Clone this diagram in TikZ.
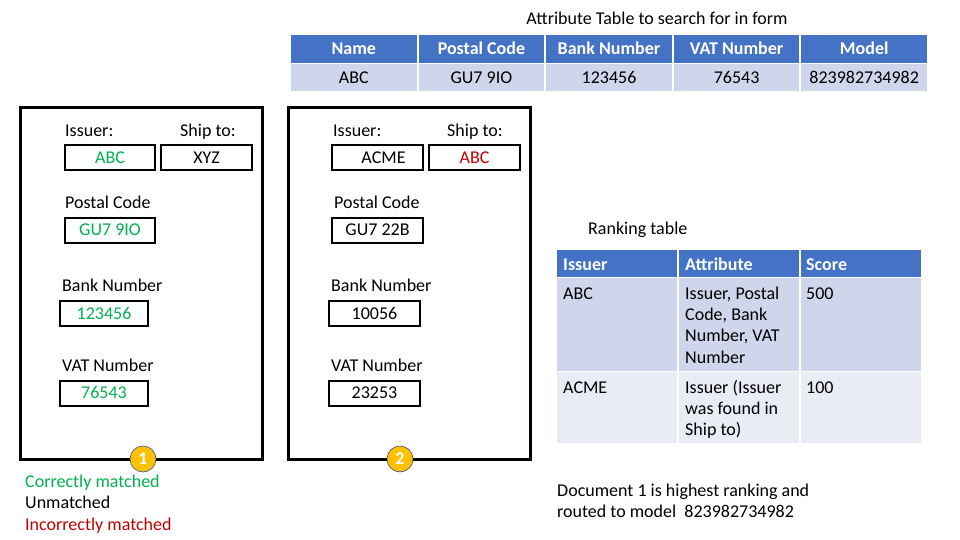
\documentclass[tikz,border=0pt]{standalone}
\usepackage{fontspec}
\setmainfont{Carlito}
\definecolor{hdrblue}{HTML}{4472C4}
\definecolor{rowA}{HTML}{CFD5EA}
\definecolor{rowB}{HTML}{E9EBF5}
\definecolor{okgreen}{HTML}{00B050}
\definecolor{badred}{HTML}{C00000}
\definecolor{badgefill}{HTML}{FFC000}
\definecolor{badgeline}{HTML}{2F528F}
\begin{document}
\begin{tikzpicture}[x=1pt,y=-1pt,
  txt/.style={font=\fontsize{18}{21.4}\selectfont, inner sep=0pt},
  lbl/.style={txt, anchor=base west},
  formbox/.style={draw, line width=3pt},
  field/.style={draw, line width=2pt, txt, minimum width=#1, minimum height=25pt, text height=11.6pt, text depth=0pt},
  field/.default=90pt,
  hcell/.style={fill=hdrblue, text=white, txt, font=\fontsize{18}{21.4}\selectfont\bfseries, minimum width=125.6pt, minimum height=28pt, text height=11.6pt, text depth=0pt},
  vcell/.style={fill=rowA, txt, minimum width=125.6pt, minimum height=27pt, text height=11.6pt, text depth=0pt},
  rcell/.style={fill=#1, inner sep=0pt, minimum width=120pt},
  para/.style={txt, anchor=north west, align=left},
  badge/.style={circle, fill=badgefill, draw=badgeline, line width=0.6pt, minimum size=26pt, inner sep=0pt, text=white, font=\fontsize{18}{18}\selectfont\bfseries}
]
\useasboundingbox (0,0) rectangle (960,540);

% attribute table
\node[txt, anchor=base] (ttitle) at (657,25) {Attribute Table to search for in form};
\node[hcell] (hName)  at (353.8,49) {Name};
\node[hcell] (hPost)  at (481.4,49) {Postal Code};
\node[hcell] (hBank)  at (609.0,49) {Bank Number};
\node[hcell] (hVat)   at (736.6,49) {VAT Number};
\node[hcell] (hModel) at (864.2,49) {Model};
\node[vcell] (vName)  at (353.8,77.5) {ABC};
\node[vcell] (vPost)  at (481.4,77.5) {GU7 9IO};
\node[vcell] (vBank)  at (609.0,77.5) {123456};
\node[vcell] (vVat)   at (736.6,77.5) {76543};
\node[vcell] (vModel) at (864.2,77.5) {823982734982};

% document 1
\node[formbox, minimum width=242pt, minimum height=351pt, inner sep=0pt] (doc1) at (141,283.5) {};
\node[lbl] (d1issuerlbl) at (65,137) {Issuer:};
\node[lbl] (d1shiplbl) at (180,137) {Ship to:};
\node[field, text=okgreen] (d1issuer) at (110,157.5) {ABC};
\node[field=91pt] (d1ship) at (206.5,157.5) {XYZ};
\node[lbl] (d1postlbl) at (65,208) {Postal Code};
\node[field, text=okgreen] (d1post) at (110,230) {GU7 9IO};
\node[lbl] (d1banklbl) at (62,291) {Bank Number};
\node[field=88pt, text=okgreen] (d1bank) at (104,313.5) {123456};
\node[lbl] (d1vatlbl) at (62,371) {VAT Number};
\node[field=88pt, text=okgreen] (d1vat) at (104,393) {76543};
\node[badge] (b1) at (143,459) {1};

% document 2
\node[formbox, minimum width=242pt, minimum height=351pt, inner sep=0pt] (doc2) at (409,283.5) {};
\node[lbl] (d2issuerlbl) at (333,137) {Issuer:};
\node[lbl] (d2shiplbl) at (447,137) {Ship to:};
\node[field=91pt] (d2issuer) at (377.5,157.5) {\hspace*{12pt}ACME};
\node[field=91pt, text=badred] (d2ship) at (474.5,157.5) {ABC};
\node[lbl] (d2postlbl) at (334,208) {Postal Code};
\node[field=91pt] (d2post) at (377.5,230) {GU7 22B};
\node[lbl] (d2banklbl) at (331,291) {Bank Number};
\node[field=91pt] (d2bank) at (374.5,313.5) {10056};
\node[lbl] (d2vatlbl) at (331,371) {VAT Number};
\node[field=91pt] (d2vat) at (374.5,393) {23253};
\node[badge] (b2) at (400,459) {2};

% legend
\node[lbl, text=okgreen] (legok) at (25,487) {Correctly matched};
\node[lbl] (legnone) at (25,508) {Unmatched};
\node[lbl, text=badred] (legbad) at (25,530) {Incorrectly matched};

% ranking table
\node[lbl] (rtitle) at (588,234) {Ranking table};
\node[rcell=hdrblue, minimum height=27pt] (rh1) at (617,263.5) {};
\node[rcell=hdrblue, minimum height=27pt] (rh2) at (739,263.5) {};
\node[rcell=hdrblue, minimum height=27pt] (rh3) at (861,263.5) {};
\node[rcell=rowA, minimum height=93pt] (ra1) at (617,324.5) {};
\node[rcell=rowA, minimum height=93pt] (ra2) at (739,324.5) {};
\node[rcell=rowA, minimum height=93pt] (ra3) at (861,324.5) {};
\node[rcell=rowB, minimum height=71pt] (rb1) at (617,407.5) {};
\node[rcell=rowB, minimum height=71pt] (rb2) at (739,407.5) {};
\node[rcell=rowB, minimum height=71pt] (rb3) at (861,407.5) {};
\node[lbl, text=white, font=\fontsize{18}{21.4}\selectfont\bfseries] (rht1) at (563,270) {Issuer};
\node[lbl, text=white, font=\fontsize{18}{21.4}\selectfont\bfseries] (rht2) at (685,270) {Attribute};
\node[lbl, text=white, font=\fontsize{18}{21.4}\selectfont\bfseries] (rht3) at (806,270) {Score};
\node[para] (rat1) at (563,284) {\strut ABC};
\node[para] (rat2) at (685,284) {\strut Issuer, Postal\\Code, Bank\\Number, VAT\\Number};
\node[para] (rat3) at (806,284) {\strut 500};
\node[para] (rbt1) at (563,378) {\strut ACME};
\node[para] (rbt2) at (685,378) {\strut Issuer (Issuer\\was found in\\Ship to)};
\node[para] (rbt3) at (806,378) {\strut 100};

% conclusion
\node[para] (result) at (557,481) {\strut Document 1 is highest ranking and\\routed to model\ \ 823982734982};
\end{tikzpicture}
\end{document}
